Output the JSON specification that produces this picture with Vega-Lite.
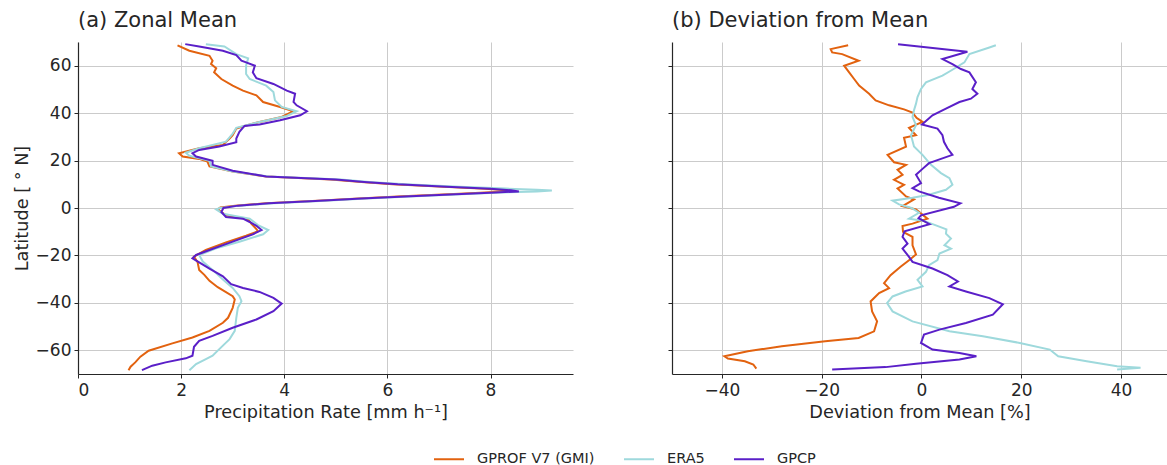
{
  "$schema": "https://vega.github.io/schema/vega-lite/v6.json",
  "padding": {"left": 13, "top": 10, "right": 0, "bottom": 0},
  "bounds": "flush",
  "spacing": 99,
  "config": {
    "font": "DejaVu Sans",
    "view": {"stroke": null},
    "axis": {
      "grid": true, "gridColor": "#cbcbcb", "gridWidth": 1,
      "domainColor": "#262626", "domainWidth": 1.2, "tickColor": "#262626", "tickSize": 4, "tickWidth": 1,
      "labelFont": "DejaVu Sans", "labelFontSize": 17, "labelColor": "#262626", "labelPadding": 3,
      "titleFont": "DejaVu Sans", "titleFontSize": 17.7, "titleColor": "#262626", "titleFontWeight": "normal"
    },
    "title": {"font": "DejaVu Sans", "fontSize": 21, "fontWeight": "normal", "anchor": "start", "frame": "group", "color": "#262626", "offset": 11, "baseline": "bottom"},
    "legend": {"labelFont": "DejaVu Sans", "labelFontSize": 14.5, "labelColor": "#262626"}
  },
  "datasets": {
    "zonal": [
      {"p": "GPROF V7 (GMI)", "lat": 68.6, "v": 1.93}, {"p": "GPROF V7 (GMI)", "lat": 66.3, "v": 2.16}, {"p": "GPROF V7 (GMI)", "lat": 64.2, "v": 2.55}, {"p": "GPROF V7 (GMI)", "lat": 62.1, "v": 2.61}, {"p": "GPROF V7 (GMI)", "lat": 60.7, "v": 2.58}, {"p": "GPROF V7 (GMI)", "lat": 58.9, "v": 2.68}, {"p": "GPROF V7 (GMI)", "lat": 57.2, "v": 2.64}, {"p": "GPROF V7 (GMI)", "lat": 54.4, "v": 2.78}, {"p": "GPROF V7 (GMI)", "lat": 51.6, "v": 3.0}, {"p": "GPROF V7 (GMI)", "lat": 49.5, "v": 3.2}, {"p": "GPROF V7 (GMI)", "lat": 47.5, "v": 3.46}, {"p": "GPROF V7 (GMI)", "lat": 44.7, "v": 3.59}, {"p": "GPROF V7 (GMI)", "lat": 42.6, "v": 3.92}, {"p": "GPROF V7 (GMI)", "lat": 40.8, "v": 4.18}, {"p": "GPROF V7 (GMI)", "lat": 38.4, "v": 3.95}, {"p": "GPROF V7 (GMI)", "lat": 36.3, "v": 3.52}, {"p": "GPROF V7 (GMI)", "lat": 34.6, "v": 3.23}, {"p": "GPROF V7 (GMI)", "lat": 33.5, "v": 3.07}, {"p": "GPROF V7 (GMI)", "lat": 30.7, "v": 3.0}, {"p": "GPROF V7 (GMI)", "lat": 29.3, "v": 2.94}, {"p": "GPROF V7 (GMI)", "lat": 26.6, "v": 2.81}, {"p": "GPROF V7 (GMI)", "lat": 25.2, "v": 2.35}, {"p": "GPROF V7 (GMI)", "lat": 23.1, "v": 1.96}, {"p": "GPROF V7 (GMI)", "lat": 21.7, "v": 2.03}, {"p": "GPROF V7 (GMI)", "lat": 20.7, "v": 2.35}, {"p": "GPROF V7 (GMI)", "lat": 19.6, "v": 2.51}, {"p": "GPROF V7 (GMI)", "lat": 17.5, "v": 2.55}, {"p": "GPROF V7 (GMI)", "lat": 15.4, "v": 3.0}, {"p": "GPROF V7 (GMI)", "lat": 13.3, "v": 3.65}, {"p": "GPROF V7 (GMI)", "lat": 12, "v": 4.9}, {"p": "GPROF V7 (GMI)", "lat": 11, "v": 5.5}, {"p": "GPROF V7 (GMI)", "lat": 10, "v": 6.1}, {"p": "GPROF V7 (GMI)", "lat": 9, "v": 7.1}, {"p": "GPROF V7 (GMI)", "lat": 8.1, "v": 7.9}, {"p": "GPROF V7 (GMI)", "lat": 7.5, "v": 8.3}, {"p": "GPROF V7 (GMI)", "lat": 7.1, "v": 8.42}, {"p": "GPROF V7 (GMI)", "lat": 6.6, "v": 8.0}, {"p": "GPROF V7 (GMI)", "lat": 6, "v": 7.4}, {"p": "GPROF V7 (GMI)", "lat": 5, "v": 6.3}, {"p": "GPROF V7 (GMI)", "lat": 4, "v": 5.45}, {"p": "GPROF V7 (GMI)", "lat": 3, "v": 4.55}, {"p": "GPROF V7 (GMI)", "lat": 2, "v": 3.65}, {"p": "GPROF V7 (GMI)", "lat": 1, "v": 3.05}, {"p": "GPROF V7 (GMI)", "lat": 0.2, "v": 2.76}, {"p": "GPROF V7 (GMI)", "lat": -0.6, "v": 2.71}, {"p": "GPROF V7 (GMI)", "lat": -3.1, "v": 2.87}, {"p": "GPROF V7 (GMI)", "lat": -4.7, "v": 3.3}, {"p": "GPROF V7 (GMI)", "lat": -6.6, "v": 3.36}, {"p": "GPROF V7 (GMI)", "lat": -8.9, "v": 3.46}, {"p": "GPROF V7 (GMI)", "lat": -9.8, "v": 3.49}, {"p": "GPROF V7 (GMI)", "lat": -11.7, "v": 3.26}, {"p": "GPROF V7 (GMI)", "lat": -14.5, "v": 2.87}, {"p": "GPROF V7 (GMI)", "lat": -17.7, "v": 2.48}, {"p": "GPROF V7 (GMI)", "lat": -20.5, "v": 2.25}, {"p": "GPROF V7 (GMI)", "lat": -22.9, "v": 2.32}, {"p": "GPROF V7 (GMI)", "lat": -26.1, "v": 2.35}, {"p": "GPROF V7 (GMI)", "lat": -28.2, "v": 2.45}, {"p": "GPROF V7 (GMI)", "lat": -30.7, "v": 2.55}, {"p": "GPROF V7 (GMI)", "lat": -33.4, "v": 2.71}, {"p": "GPROF V7 (GMI)", "lat": -37.2, "v": 3.0}, {"p": "GPROF V7 (GMI)", "lat": -38.6, "v": 3.04}, {"p": "GPROF V7 (GMI)", "lat": -42.1, "v": 3.0}, {"p": "GPROF V7 (GMI)", "lat": -46.3, "v": 2.91}, {"p": "GPROF V7 (GMI)", "lat": -48.4, "v": 2.81}, {"p": "GPROF V7 (GMI)", "lat": -51.8, "v": 2.55}, {"p": "GPROF V7 (GMI)", "lat": -54.6, "v": 2.22}, {"p": "GPROF V7 (GMI)", "lat": -57.1, "v": 1.83}, {"p": "GPROF V7 (GMI)", "lat": -60.2, "v": 1.37}, {"p": "GPROF V7 (GMI)", "lat": -62.7, "v": 1.21}, {"p": "GPROF V7 (GMI)", "lat": -65.1, "v": 1.11}, {"p": "GPROF V7 (GMI)", "lat": -66.9, "v": 1.02}, {"p": "GPROF V7 (GMI)", "lat": -68.4, "v": 0.98},

      {"p": "ERA5", "lat": 69.1, "v": 2.48}, {"p": "ERA5", "lat": 68.1, "v": 2.84}, {"p": "ERA5", "lat": 64.9, "v": 3.07}, {"p": "ERA5", "lat": 63.1, "v": 3.3}, {"p": "ERA5", "lat": 60.0, "v": 3.26}, {"p": "ERA5", "lat": 56.5, "v": 3.26}, {"p": "ERA5", "lat": 54.4, "v": 3.33}, {"p": "ERA5", "lat": 51.6, "v": 3.65}, {"p": "ERA5", "lat": 48.9, "v": 3.79}, {"p": "ERA5", "lat": 45.4, "v": 3.82}, {"p": "ERA5", "lat": 42.6, "v": 3.95}, {"p": "ERA5", "lat": 40.8, "v": 4.24}, {"p": "ERA5", "lat": 38.8, "v": 4.05}, {"p": "ERA5", "lat": 36.3, "v": 3.52}, {"p": "ERA5", "lat": 33.8, "v": 3.07}, {"p": "ERA5", "lat": 31.4, "v": 3.0}, {"p": "ERA5", "lat": 28.0, "v": 2.87}, {"p": "ERA5", "lat": 25.2, "v": 2.35}, {"p": "ERA5", "lat": 23.3, "v": 2.09}, {"p": "ERA5", "lat": 22.0, "v": 2.16}, {"p": "ERA5", "lat": 19.9, "v": 2.55}, {"p": "ERA5", "lat": 17.5, "v": 2.58}, {"p": "ERA5", "lat": 15.4, "v": 3.0}, {"p": "ERA5", "lat": 13.3, "v": 3.7}, {"p": "ERA5", "lat": 12, "v": 5.1}, {"p": "ERA5", "lat": 11, "v": 5.65}, {"p": "ERA5", "lat": 10, "v": 6.35}, {"p": "ERA5", "lat": 9, "v": 7.4}, {"p": "ERA5", "lat": 8.2, "v": 8.3}, {"p": "ERA5", "lat": 7.7, "v": 8.9}, {"p": "ERA5", "lat": 7.4, "v": 9.19}, {"p": "ERA5", "lat": 7.0, "v": 8.9}, {"p": "ERA5", "lat": 6.5, "v": 8.2}, {"p": "ERA5", "lat": 6, "v": 7.65}, {"p": "ERA5", "lat": 5, "v": 6.55}, {"p": "ERA5", "lat": 4, "v": 5.6}, {"p": "ERA5", "lat": 3, "v": 4.7}, {"p": "ERA5", "lat": 2, "v": 3.8}, {"p": "ERA5", "lat": 1, "v": 3.15}, {"p": "ERA5", "lat": 0, "v": 2.75}, {"p": "ERA5", "lat": -0.6, "v": 2.68}, {"p": "ERA5", "lat": -2.4, "v": 2.81}, {"p": "ERA5", "lat": -4.5, "v": 3.33}, {"p": "ERA5", "lat": -7.2, "v": 3.49}, {"p": "ERA5", "lat": -9.3, "v": 3.69}, {"p": "ERA5", "lat": -11.1, "v": 3.59}, {"p": "ERA5", "lat": -14.2, "v": 3.13}, {"p": "ERA5", "lat": -17.0, "v": 2.68}, {"p": "ERA5", "lat": -19.8, "v": 2.35}, {"p": "ERA5", "lat": -22.6, "v": 2.42}, {"p": "ERA5", "lat": -26.1, "v": 2.61}, {"p": "ERA5", "lat": -30.2, "v": 2.81}, {"p": "ERA5", "lat": -33.7, "v": 3.0}, {"p": "ERA5", "lat": -37.2, "v": 3.13}, {"p": "ERA5", "lat": -39.3, "v": 3.17}, {"p": "ERA5", "lat": -42.1, "v": 3.1}, {"p": "ERA5", "lat": -46.3, "v": 3.07}, {"p": "ERA5", "lat": -51.8, "v": 3.04}, {"p": "ERA5", "lat": -55.3, "v": 2.94}, {"p": "ERA5", "lat": -59.5, "v": 2.74}, {"p": "ERA5", "lat": -62.3, "v": 2.61}, {"p": "ERA5", "lat": -63.7, "v": 2.48}, {"p": "ERA5", "lat": -65.8, "v": 2.29}, {"p": "ERA5", "lat": -68.4, "v": 2.16},

      {"p": "GPCP", "lat": 69.1, "v": 2.08}, {"p": "GPCP", "lat": 68.1, "v": 2.35}, {"p": "GPCP", "lat": 66.3, "v": 2.81}, {"p": "GPCP", "lat": 64.5, "v": 3.07}, {"p": "GPCP", "lat": 62.1, "v": 3.17}, {"p": "GPCP", "lat": 61.4, "v": 3.26}, {"p": "GPCP", "lat": 60, "v": 3.43}, {"p": "GPCP", "lat": 57.2, "v": 3.39}, {"p": "GPCP", "lat": 54.7, "v": 3.46}, {"p": "GPCP", "lat": 52.3, "v": 3.79}, {"p": "GPCP", "lat": 49.5, "v": 4.05}, {"p": "GPCP", "lat": 48.2, "v": 4.21}, {"p": "GPCP", "lat": 44.7, "v": 4.18}, {"p": "GPCP", "lat": 43.3, "v": 4.24}, {"p": "GPCP", "lat": 40.8, "v": 4.44}, {"p": "GPCP", "lat": 39.1, "v": 4.31}, {"p": "GPCP", "lat": 37.0, "v": 3.92}, {"p": "GPCP", "lat": 35.2, "v": 3.52}, {"p": "GPCP", "lat": 34.6, "v": 3.23}, {"p": "GPCP", "lat": 32.1, "v": 3.13}, {"p": "GPCP", "lat": 29.3, "v": 3.07}, {"p": "GPCP", "lat": 27.7, "v": 3.07}, {"p": "GPCP", "lat": 25.9, "v": 2.74}, {"p": "GPCP", "lat": 24.5, "v": 2.35}, {"p": "GPCP", "lat": 23.1, "v": 2.22}, {"p": "GPCP", "lat": 21.7, "v": 2.29}, {"p": "GPCP", "lat": 19.9, "v": 2.61}, {"p": "GPCP", "lat": 18.2, "v": 2.61}, {"p": "GPCP", "lat": 15.7, "v": 3.0}, {"p": "GPCP", "lat": 13.3, "v": 3.65}, {"p": "GPCP", "lat": 12, "v": 5.0}, {"p": "GPCP", "lat": 11, "v": 5.55}, {"p": "GPCP", "lat": 10, "v": 6.2}, {"p": "GPCP", "lat": 9, "v": 7.15}, {"p": "GPCP", "lat": 8.1, "v": 8.0}, {"p": "GPCP", "lat": 7.5, "v": 8.4}, {"p": "GPCP", "lat": 7.0, "v": 8.55}, {"p": "GPCP", "lat": 6.5, "v": 8.1}, {"p": "GPCP", "lat": 6, "v": 7.55}, {"p": "GPCP", "lat": 5, "v": 6.45}, {"p": "GPCP", "lat": 4, "v": 5.5}, {"p": "GPCP", "lat": 3, "v": 4.6}, {"p": "GPCP", "lat": 2, "v": 3.7}, {"p": "GPCP", "lat": 1, "v": 3.1}, {"p": "GPCP", "lat": 0, "v": 2.82}, {"p": "GPCP", "lat": -1.7, "v": 2.78}, {"p": "GPCP", "lat": -3.8, "v": 2.87}, {"p": "GPCP", "lat": -4.5, "v": 3.2}, {"p": "GPCP", "lat": -5.9, "v": 3.33}, {"p": "GPCP", "lat": -7.5, "v": 3.46}, {"p": "GPCP", "lat": -9.3, "v": 3.56}, {"p": "GPCP", "lat": -11.1, "v": 3.39}, {"p": "GPCP", "lat": -14.2, "v": 3.0}, {"p": "GPCP", "lat": -17.7, "v": 2.55}, {"p": "GPCP", "lat": -19.8, "v": 2.29}, {"p": "GPCP", "lat": -21.2, "v": 2.22}, {"p": "GPCP", "lat": -22.9, "v": 2.35}, {"p": "GPCP", "lat": -25.6, "v": 2.55}, {"p": "GPCP", "lat": -28.8, "v": 2.81}, {"p": "GPCP", "lat": -32.1, "v": 2.97}, {"p": "GPCP", "lat": -33.7, "v": 3.2}, {"p": "GPCP", "lat": -35.4, "v": 3.52}, {"p": "GPCP", "lat": -37.9, "v": 3.79}, {"p": "GPCP", "lat": -40.3, "v": 3.95}, {"p": "GPCP", "lat": -43.5, "v": 3.79}, {"p": "GPCP", "lat": -47.0, "v": 3.46}, {"p": "GPCP", "lat": -50.5, "v": 3.0}, {"p": "GPCP", "lat": -53.9, "v": 2.61}, {"p": "GPCP", "lat": -56.0, "v": 2.35}, {"p": "GPCP", "lat": -58.5, "v": 2.25}, {"p": "GPCP", "lat": -62.3, "v": 2.22}, {"p": "GPCP", "lat": -63.4, "v": 2.09}, {"p": "GPCP", "lat": -65.1, "v": 1.7}, {"p": "GPCP", "lat": -66.5, "v": 1.44}, {"p": "GPCP", "lat": -68.4, "v": 1.24}
    ],
    "deviation": [
      {"p": "GPROF V7 (GMI)", "lat": 68.6, "v": -14.7}, {"p": "GPROF V7 (GMI)", "lat": 67.0, "v": -18.2}, {"p": "GPROF V7 (GMI)", "lat": 65.6, "v": -17.9}, {"p": "GPROF V7 (GMI)", "lat": 64.9, "v": -15.9}, {"p": "GPROF V7 (GMI)", "lat": 62.1, "v": -12.6}, {"p": "GPROF V7 (GMI)", "lat": 60, "v": -15.5}, {"p": "GPROF V7 (GMI)", "lat": 57.2, "v": -14.5}, {"p": "GPROF V7 (GMI)", "lat": 54.4, "v": -13.5}, {"p": "GPROF V7 (GMI)", "lat": 51.6, "v": -12.5}, {"p": "GPROF V7 (GMI)", "lat": 48.2, "v": -10.5}, {"p": "GPROF V7 (GMI)", "lat": 45.4, "v": -9.2}, {"p": "GPROF V7 (GMI)", "lat": 43.3, "v": -6.5}, {"p": "GPROF V7 (GMI)", "lat": 41.6, "v": -3.5}, {"p": "GPROF V7 (GMI)", "lat": 40.2, "v": -1.8}, {"p": "GPROF V7 (GMI)", "lat": 38, "v": -1.0}, {"p": "GPROF V7 (GMI)", "lat": 36.3, "v": 0.2}, {"p": "GPROF V7 (GMI)", "lat": 33.8, "v": -2.5}, {"p": "GPROF V7 (GMI)", "lat": 30.7, "v": -1.1}, {"p": "GPROF V7 (GMI)", "lat": 29.6, "v": -3.5}, {"p": "GPROF V7 (GMI)", "lat": 25.9, "v": -3.1}, {"p": "GPROF V7 (GMI)", "lat": 22.4, "v": -6.8}, {"p": "GPROF V7 (GMI)", "lat": 19.3, "v": -5.5}, {"p": "GPROF V7 (GMI)", "lat": 18.2, "v": -3.1}, {"p": "GPROF V7 (GMI)", "lat": 16.1, "v": -4.8}, {"p": "GPROF V7 (GMI)", "lat": 14.0, "v": -3.8}, {"p": "GPROF V7 (GMI)", "lat": 11.9, "v": -5.5}, {"p": "GPROF V7 (GMI)", "lat": 9.8, "v": -3.5}, {"p": "GPROF V7 (GMI)", "lat": 8.2, "v": -4.8}, {"p": "GPROF V7 (GMI)", "lat": 4.9, "v": -3.1}, {"p": "GPROF V7 (GMI)", "lat": 3.6, "v": -1.5}, {"p": "GPROF V7 (GMI)", "lat": 0.8, "v": -3.8}, {"p": "GPROF V7 (GMI)", "lat": -0.6, "v": -1.1}, {"p": "GPROF V7 (GMI)", "lat": -4.5, "v": 1.2}, {"p": "GPROF V7 (GMI)", "lat": -6.6, "v": -1.8}, {"p": "GPROF V7 (GMI)", "lat": -7.6, "v": -3.8}, {"p": "GPROF V7 (GMI)", "lat": -10.1, "v": -3.7}, {"p": "GPROF V7 (GMI)", "lat": -12.2, "v": -1.8}, {"p": "GPROF V7 (GMI)", "lat": -15.7, "v": -1.8}, {"p": "GPROF V7 (GMI)", "lat": -19.6, "v": -1.1}, {"p": "GPROF V7 (GMI)", "lat": -22.0, "v": -2.5}, {"p": "GPROF V7 (GMI)", "lat": -24.8, "v": -4.2}, {"p": "GPROF V7 (GMI)", "lat": -28.3, "v": -6.2}, {"p": "GPROF V7 (GMI)", "lat": -31.7, "v": -7.5}, {"p": "GPROF V7 (GMI)", "lat": -33.8, "v": -6.5}, {"p": "GPROF V7 (GMI)", "lat": -35.9, "v": -8.5}, {"p": "GPROF V7 (GMI)", "lat": -39.4, "v": -10.2}, {"p": "GPROF V7 (GMI)", "lat": -43.6, "v": -9.9}, {"p": "GPROF V7 (GMI)", "lat": -47.8, "v": -8.9}, {"p": "GPROF V7 (GMI)", "lat": -52.0, "v": -9.5}, {"p": "GPROF V7 (GMI)", "lat": -54.8, "v": -12.6}, {"p": "GPROF V7 (GMI)", "lat": -56.2, "v": -19.3}, {"p": "GPROF V7 (GMI)", "lat": -58.3, "v": -28.0}, {"p": "GPROF V7 (GMI)", "lat": -60.4, "v": -34.8}, {"p": "GPROF V7 (GMI)", "lat": -62.5, "v": -39.5}, {"p": "GPROF V7 (GMI)", "lat": -63.5, "v": -38.8}, {"p": "GPROF V7 (GMI)", "lat": -64.6, "v": -35.4}, {"p": "GPROF V7 (GMI)", "lat": -66.0, "v": -33.7}, {"p": "GPROF V7 (GMI)", "lat": -67.7, "v": -33.1},

      {"p": "ERA5", "lat": 68.6, "v": 14.9}, {"p": "ERA5", "lat": 67.7, "v": 13.6}, {"p": "ERA5", "lat": 64.9, "v": 9.6}, {"p": "ERA5", "lat": 61.4, "v": 8.6}, {"p": "ERA5", "lat": 58.3, "v": 6.2}, {"p": "ERA5", "lat": 55.8, "v": 4.2}, {"p": "ERA5", "lat": 53.0, "v": 0.9}, {"p": "ERA5", "lat": 50.2, "v": -0.1}, {"p": "ERA5", "lat": 46.8, "v": -0.8}, {"p": "ERA5", "lat": 44.0, "v": -1.1}, {"p": "ERA5", "lat": 41.2, "v": -1.5}, {"p": "ERA5", "lat": 38.4, "v": -1.8}, {"p": "ERA5", "lat": 34.9, "v": -1.1}, {"p": "ERA5", "lat": 30.7, "v": -2.1}, {"p": "ERA5", "lat": 25.9, "v": -1.5}, {"p": "ERA5", "lat": 22.4, "v": 0.2}, {"p": "ERA5", "lat": 18.2, "v": 1.9}, {"p": "ERA5", "lat": 14.7, "v": 3.9}, {"p": "ERA5", "lat": 12.6, "v": 5.6}, {"p": "ERA5", "lat": 9.8, "v": 6.2}, {"p": "ERA5", "lat": 7.7, "v": 4.9}, {"p": "ERA5", "lat": 5.6, "v": 1.5}, {"p": "ERA5", "lat": 4.3, "v": -1.8}, {"p": "ERA5", "lat": 3.1, "v": -5.8}, {"p": "ERA5", "lat": 1.5, "v": -4.5}, {"p": "ERA5", "lat": 0, "v": -2.0}, {"p": "ERA5", "lat": -2, "v": -0.5}, {"p": "ERA5", "lat": -4.5, "v": -2.5}, {"p": "ERA5", "lat": -5.5, "v": 0.5}, {"p": "ERA5", "lat": -7, "v": 2.5}, {"p": "ERA5", "lat": -9, "v": 5.0}, {"p": "ERA5", "lat": -10.8, "v": 4.9}, {"p": "ERA5", "lat": -12.9, "v": 5.9}, {"p": "ERA5", "lat": -15.7, "v": 4.6}, {"p": "ERA5", "lat": -17.1, "v": 5.9}, {"p": "ERA5", "lat": -19.2, "v": 3.6}, {"p": "ERA5", "lat": -22.0, "v": 3.2}, {"p": "ERA5", "lat": -24.1, "v": 1.5}, {"p": "ERA5", "lat": -26.9, "v": 0.9}, {"p": "ERA5", "lat": -30.3, "v": -0.8}, {"p": "ERA5", "lat": -33.1, "v": 0.2}, {"p": "ERA5", "lat": -35.2, "v": -3.2}, {"p": "ERA5", "lat": -37.3, "v": -5.8}, {"p": "ERA5", "lat": -40.1, "v": -6.9}, {"p": "ERA5", "lat": -43.6, "v": -5.8}, {"p": "ERA5", "lat": -47.8, "v": -1.8}, {"p": "ERA5", "lat": -52.0, "v": 5.6}, {"p": "ERA5", "lat": -54.1, "v": 12.3}, {"p": "ERA5", "lat": -56.9, "v": 19.7}, {"p": "ERA5", "lat": -59.7, "v": 25.7}, {"p": "ERA5", "lat": -62.5, "v": 27.4}, {"p": "ERA5", "lat": -64.6, "v": 33.1}, {"p": "ERA5", "lat": -66.7, "v": 39.2}, {"p": "ERA5", "lat": -67.4, "v": 43.9}, {"p": "ERA5", "lat": -68.1, "v": 39.2},

      {"p": "GPCP", "lat": 69.1, "v": -4.7}, {"p": "GPCP", "lat": 65.9, "v": 9.2}, {"p": "GPCP", "lat": 62.8, "v": 4.2}, {"p": "GPCP", "lat": 60.7, "v": 6.2}, {"p": "GPCP", "lat": 58.6, "v": 7.9}, {"p": "GPCP", "lat": 57.2, "v": 9.6}, {"p": "GPCP", "lat": 53.0, "v": 10.9}, {"p": "GPCP", "lat": 50.2, "v": 10.2}, {"p": "GPCP", "lat": 48.2, "v": 11.2}, {"p": "GPCP", "lat": 46.1, "v": 9.9}, {"p": "GPCP", "lat": 44.7, "v": 7.6}, {"p": "GPCP", "lat": 41.9, "v": 4.9}, {"p": "GPCP", "lat": 39.1, "v": 2.2}, {"p": "GPCP", "lat": 35.2, "v": 0.1}, {"p": "GPCP", "lat": 33.5, "v": 3.2}, {"p": "GPCP", "lat": 30.7, "v": 4.2}, {"p": "GPCP", "lat": 27.9, "v": 4.5}, {"p": "GPCP", "lat": 25.2, "v": 5.2}, {"p": "GPCP", "lat": 22.4, "v": 6.2}, {"p": "GPCP", "lat": 18.9, "v": 1.5}, {"p": "GPCP", "lat": 16.5, "v": 0.2}, {"p": "GPCP", "lat": 14.0, "v": -1.1}, {"p": "GPCP", "lat": 10.5, "v": -0.1}, {"p": "GPCP", "lat": 8.4, "v": -1.8}, {"p": "GPCP", "lat": 7.0, "v": -0.5}, {"p": "GPCP", "lat": 4.3, "v": 3.5}, {"p": "GPCP", "lat": 2.0, "v": 7.8}, {"p": "GPCP", "lat": 0.5, "v": 6.5}, {"p": "GPCP", "lat": -3.1, "v": -0.1}, {"p": "GPCP", "lat": -4.3, "v": -0.6}, {"p": "GPCP", "lat": -6.8, "v": 1.6}, {"p": "GPCP", "lat": -9.8, "v": -3.4}, {"p": "GPCP", "lat": -12.2, "v": -3.8}, {"p": "GPCP", "lat": -15.0, "v": -2.8}, {"p": "GPCP", "lat": -17.1, "v": -3.8}, {"p": "GPCP", "lat": -20.6, "v": -2.5}, {"p": "GPCP", "lat": -22.7, "v": -1.8}, {"p": "GPCP", "lat": -25.5, "v": 2.2}, {"p": "GPCP", "lat": -28.3, "v": 5.2}, {"p": "GPCP", "lat": -31.0, "v": 7.3}, {"p": "GPCP", "lat": -33.1, "v": 5.6}, {"p": "GPCP", "lat": -35.2, "v": 8.9}, {"p": "GPCP", "lat": -38.0, "v": 13.6}, {"p": "GPCP", "lat": -40.6, "v": 16.3}, {"p": "GPCP", "lat": -45.0, "v": 14.3}, {"p": "GPCP", "lat": -48.5, "v": 8.9}, {"p": "GPCP", "lat": -51.3, "v": 3.6}, {"p": "GPCP", "lat": -53.4, "v": 0.5}, {"p": "GPCP", "lat": -56.9, "v": -0.1}, {"p": "GPCP", "lat": -59.7, "v": 2.2}, {"p": "GPCP", "lat": -61.1, "v": 7.6}, {"p": "GPCP", "lat": -62.5, "v": 11.0}, {"p": "GPCP", "lat": -63.9, "v": 7.6}, {"p": "GPCP", "lat": -65.7, "v": -1.1}, {"p": "GPCP", "lat": -67.1, "v": -7.2}, {"p": "GPCP", "lat": -68.1, "v": -17.9}
    ]
  },
  "hconcat": [
    {
      "title": "(a) Zonal Mean",
      "width": 495,
      "height": 332,
      "data": {"name": "zonal"},
      "mark": {"type": "line", "strokeWidth": 2, "clip": true},
      "encoding": {
        "x": {"field": "v", "type": "quantitative", "title": "Precipitation Rate [mm h⁻¹]",
              "scale": {"domain": [0, 9.6], "nice": false, "zero": false},
              "axis": {"values": [0, 2, 4, 6, 8], "labelPadding": 4, "titlePadding": 5}},
        "y": {"field": "lat", "type": "quantitative", "title": "Latitude [ ° N]",
              "scale": {"domain": [-70, 70], "nice": false, "zero": false},
              "axis": {"values": [-60, -40, -20, 0, 20, 40, 60], "titlePadding": 4}},
        "order": {"field": "lat", "type": "quantitative"},
        "color": {"field": "p", "type": "nominal",
                  "scale": {"domain": ["GPROF V7 (GMI)", "ERA5", "GPCP"], "range": ["#e2620f", "#9ed9dc", "#5a1fc8"]},
                  "legend": {"title": null, "orient": "none", "direction": "horizontal", "legendX": 355, "legendY": 401,
                             "symbolType": "stroke", "symbolSize": 900, "symbolStrokeWidth": 2,
                             "labelOffset": 12, "columnPadding": 25}}
      }
    },
    {
      "title": "(b) Deviation from Mean",
      "width": 495,
      "height": 332,
      "data": {"name": "deviation"},
      "mark": {"type": "line", "strokeWidth": 2, "clip": true},
      "encoding": {
        "x": {"field": "v", "type": "quantitative", "title": "Deviation from Mean [%]",
              "scale": {"domain": [-50, 49.2], "nice": false, "zero": false},
              "axis": {"values": [-40, -20, 0, 20, 40], "labelPadding": 4, "titlePadding": 5}},
        "y": {"field": "lat", "type": "quantitative", "title": null,
              "scale": {"domain": [-70, 70], "nice": false, "zero": false},
              "axis": {"values": [-60, -40, -20, 0, 20, 40, 60], "labels": false}},
        "order": {"field": "lat", "type": "quantitative"},
        "color": {"field": "p", "type": "nominal",
                  "scale": {"domain": ["GPROF V7 (GMI)", "ERA5", "GPCP"], "range": ["#e2620f", "#9ed9dc", "#5a1fc8"]}}
      }
    }
  ]
}
